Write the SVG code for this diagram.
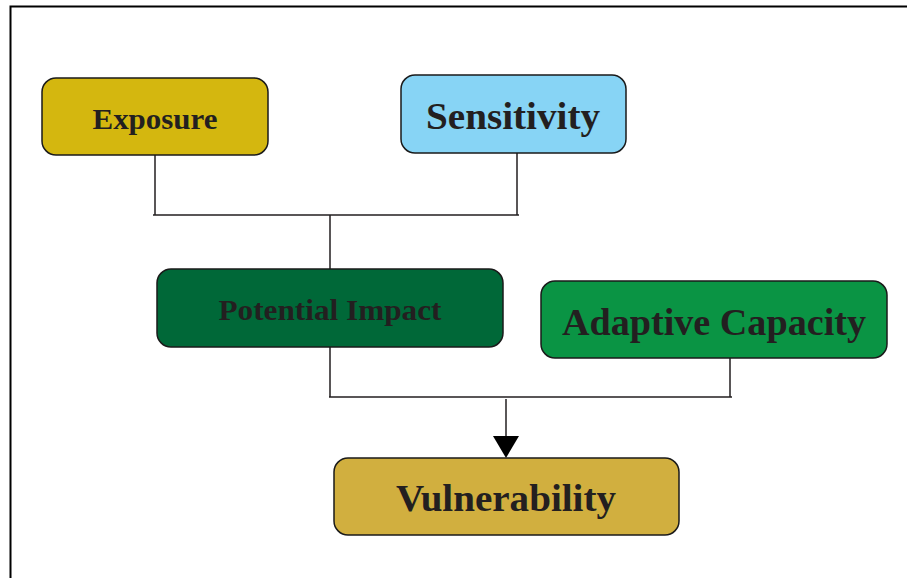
<svg xmlns="http://www.w3.org/2000/svg" width="907" height="578" viewBox="0 0 907 578">
<style>
.box{stroke:#1a1a1a;stroke-width:1.5}
.lbl{font-family:"Liberation Serif","DejaVu Serif",serif;font-weight:bold;fill:#231f20;text-anchor:middle;dominant-baseline:central}
.ln{stroke:#231f20;stroke-width:1.5;fill:none}
</style>
<rect x="0" y="0" width="907" height="578" fill="#fff"/>
<path d="M10.5,578 L10.5,6.5 L907,6.5" fill="none" stroke="#000" stroke-width="2"/>
<g id="connectors">
<path class="ln" d="M155,155 V215 M517,153 V215 M153,215 H519 M330,215 V269"/>
<path class="ln" d="M330,347 V397 M730,358 V397 M329,397 H732"/>
<line class="ln" x1="506" y1="399" x2="506" y2="437"/>
<path d="M493,436 L519,436 L506,458 Z" fill="#000"/>
</g>
<g id="exposure">
<rect class="box" x="42" y="78" width="226" height="77" rx="14" fill="#d4b70f"/>
<text class="lbl" x="155" y="119" font-size="29" textLength="125" lengthAdjust="spacingAndGlyphs">Exposure</text>
</g>
<g id="sensitivity">
<rect class="box" x="401" y="75" width="225" height="78" rx="14" fill="#87d4f5"/>
<text class="lbl" x="513" y="116" font-size="38" textLength="174" lengthAdjust="spacingAndGlyphs">Sensitivity</text>
</g>
<g id="potential-impact">
<rect class="box" x="157" y="269" width="346" height="78" rx="14" fill="#006838"/>
<text class="lbl" x="330" y="310" font-size="29" textLength="223" lengthAdjust="spacingAndGlyphs">Potential Impact</text>
</g>
<g id="adaptive-capacity">
<rect class="box" x="541" y="281" width="346" height="77" rx="14" fill="#0a9444"/>
<text class="lbl" x="714" y="322" font-size="38" textLength="304" lengthAdjust="spacingAndGlyphs">Adaptive Capacity</text>
</g>
<g id="vulnerability">
<rect class="box" x="334" y="458" width="345" height="77" rx="14" fill="#d1af3f"/>
<text class="lbl" x="506" y="498" font-size="38" textLength="220" lengthAdjust="spacingAndGlyphs">Vulnerability</text>
</g>
</svg>
